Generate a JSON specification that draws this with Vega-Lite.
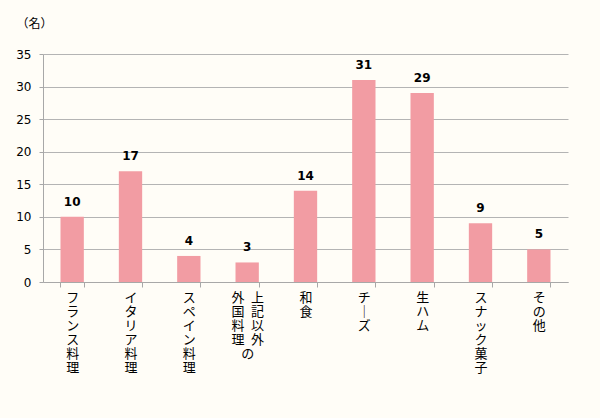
{
  "$schema": "https://vega.github.io/schema/vega-lite/v6.json",
  "autosize": "none",
  "width": 525,
  "height": 228,
  "padding": {"left": 43, "top": 54, "right": 32, "bottom": 136},
  "background": "#FFFDF7",
  "config": {
    "view": {"stroke": null},
    "axis": {"domainColor": "#A8A8A8", "tickColor": "#A8A8A8", "gridColor": "#B4B4B4"}
  },
  "data": {
    "values": [
      {"cat": "フランス料理", "n": 10},
      {"cat": "イタリア料理", "n": 17},
      {"cat": "スペイン料理", "n": 4},
      {"cat": "上記以外の外国料理", "n": 3},
      {"cat": "和食", "n": 14},
      {"cat": "チーズ", "n": 31},
      {"cat": "生ハム", "n": 29},
      {"cat": "スナック菓子", "n": 9},
      {"cat": "その他", "n": 5}
    ]
  },
  "encoding": {
    "x": {
      "field": "cat", "type": "nominal", "sort": null,
      "scale": {"paddingInner": 0.6, "paddingOuter": 0.3},
      "axis": {
        "title": null, "labelAngle": 0, "tickBand": "extent", "tickSize": 5,
        "labelBaseline": "top", "labelPadding": 4,
        "labelFont": "Noto Sans CJK JP", "labelFontSize": 13, "labelLineHeight": 14,
        "labelColor": "#000000", "labelOverlap": false, "labelBound": false, "labelLimit": 0,
        "labelExpr": "datum.label == '上記以外の外国料理' ? ['外\u2002上','国\u2002記','料\u2002以','理\u2002外','\u3000\u2002の'] : split(replace(datum.label,'ー','｜'),'')"
      }
    },
    "y": {
      "field": "n", "type": "quantitative",
      "scale": {"domain": [0, 35]},
      "axis": {
        "values": [0, 5, 10, 15, 20, 25, 30, 35],
        "title": "（名）", "titleAngle": 0, "titleAlign": "left", "titleBaseline": "middle",
        "titleX": -27, "titleY": -31, "titleFont": "Noto Sans CJK JP", "titleFontSize": 12,
        "titleFontWeight": "normal", "titleColor": "#000000",
        "tickSize": 4, "labelPadding": 8,
        "labelFont": "DejaVu Sans", "labelFontSize": 12, "labelColor": "#000000"
      }
    }
  },
  "layer": [
    {"mark": {"type": "bar", "color": "#F29CA3"}},
    {
      "mark": {"type": "text", "dy": -8, "baseline": "bottom", "font": "DejaVu Sans", "fontWeight": "bold", "fontSize": 12, "color": "#000000"},
      "encoding": {"text": {"field": "n", "type": "quantitative"}}
    }
  ]
}
